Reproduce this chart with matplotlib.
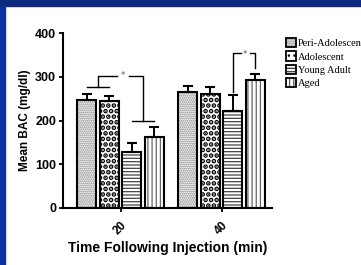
import numpy as np
import matplotlib
matplotlib.use("Agg")
import matplotlib.pyplot as plt
import matplotlib.patches as mpatches
from matplotlib.legend_handler import HandlerTuple

# data
times = ["20", "40"]
groups = ["Peri-Adolescent", "Adolescent", "Young Adult", "Aged"]
means = {
    "Peri-Adolescent": [247, 266],
    "Adolescent": [245, 261],
    "Young Adult": [129, 222],
    "Aged": [163, 293],
}
sems = {
    "Peri-Adolescent": [13, 13],
    "Adolescent": [10, 15],
    "Young Adult": [19, 36],
    "Aged": [23, 14],
}
yticks = [0, 100, 200, 300, 400]

# hatch look per group: (hatch, hatch colour, hatch linewidth)
styles = {
    "Peri-Adolescent": ("........", "#7a7a7a", 0.9),
    "Adolescent": ("...", "black", 2.4),
    "Young Adult": ("-----", "#444444", 0.9),
    "Aged": ("||||", "#666666", 0.9),
}

BLUE = "#0833a0"
NAVY = "#0b2a80"
SANS = ["Liberation Sans", "DejaVu Sans"]
SERIF = ["Liberation Serif", "DejaVu Serif"]

fig = plt.figure(figsize=(3.61, 2.65), dpi=100)
fig.patch.set_facecolor("white")
# slide frame: blue strip left, navy strip top
fig.add_artist(mpatches.Rectangle((0, 0), 5 / 361, 1, transform=fig.transFigure,
                                  color=BLUE, zorder=0))
fig.add_artist(mpatches.Rectangle((0, 1 - 6 / 265), 1, 6 / 265, transform=fig.transFigure,
                                  color=NAVY, zorder=0))

ax = fig.add_axes([63 / 361, 1 - 208 / 265, 209 / 361, 175 / 265])
ax.set_facecolor("none")

x = np.arange(len(times))
pitch, width = 0.223, 0.19
handles = []
for i, g in enumerate(groups):
    xs = x + (i - 1.5) * pitch
    hatch, hc, hlw = styles[g]
    with plt.rc_context({"hatch.linewidth": hlw}):
        ax.bar(xs, means[g], width, color="white", edgecolor=hc, hatch=hatch, lw=0, zorder=2)
        hp = mpatches.Patch(facecolor="white", edgecolor=hc, hatch=hatch, lw=0)
    ax.bar(xs, means[g], width, fill=False, edgecolor="black", lw=1.5, zorder=3)
    ax.errorbar(xs, means[g], yerr=[np.zeros(len(xs)), sems[g]], fmt="none",
                ecolor="black", elinewidth=1.4, capsize=3.6, capthick=1.5, zorder=4)
    ep = mpatches.Patch(fill=False, edgecolor="black", lw=1.3)
    handles.append((hp, ep))

# significance brackets
kw = dict(color="black", lw=1.0, clip_on=False, zorder=5)
b1, b2, b3, b4 = [(i - 1.5) * pitch for i in range(4)]
ax.plot([b1, b2], [276, 276], **kw)
m12 = (b1 + b2) / 2
m34 = (b3 + b4) / 2
ax.plot([m12, m12, -0.04], [276, 302, 302], **kw)
ax.plot([0.08, m34, m34], [302, 302, 199], **kw)
ax.plot([b3, b4], [199, 199], **kw)
ax.text(0.02, 302, "*", ha="center", va="center", fontsize=6, color="#555555")

c3, c4 = 1 + b3, 1 + b4
ax.plot([c3, c3, 1.19], [266, 354, 354], **kw)
ax.plot([1.28, c4, c4], [354, 354, 320], **kw)
ax.text(1.235, 352, "*", ha="center", va="center", fontsize=6, color="#555555")

ax.set_xlim(-0.57, 1.50)
ax.set_ylim(0, 400)
ax.set_yticks(yticks)
ax.set_yticklabels([str(v) for v in yticks], fontsize=9, fontweight="bold", family=SANS)
ax.set_xticks(x)
ax.set_xticklabels(times, fontsize=8.5, fontweight="bold", family=SANS, rotation=45)
ax.tick_params(length=3, width=1.3, pad=2)
ax.tick_params(axis="x", pad=5)
for s in ["top", "right"]:
    ax.spines[s].set_visible(False)
for s in ["left", "bottom"]:
    ax.spines[s].set_linewidth(1.5)

ax.set_ylabel("Mean BAC (mg/dl)", fontsize=8.5, fontweight="bold", family=SANS, labelpad=3)
ax.set_xlabel("Time Following Injection (min)", fontsize=10, fontweight="bold",
              family=SANS, labelpad=3)

fig.legend(handles, ["Peri-Adolescent", "Adolescent", "Young Adult", "Aged"],
           handler_map={tuple: HandlerTuple(ndivide=1)},
           loc="upper left", bbox_to_anchor=(286 / 361, 1 - 38 / 265),
           frameon=False, borderpad=0, borderaxespad=0, handlelength=1.0,
           handleheight=1.0, handletextpad=0.12, labelspacing=0.3,
           prop={"family": SERIF, "size": 7.5})

fig.savefig("out.png", dpi=100)
